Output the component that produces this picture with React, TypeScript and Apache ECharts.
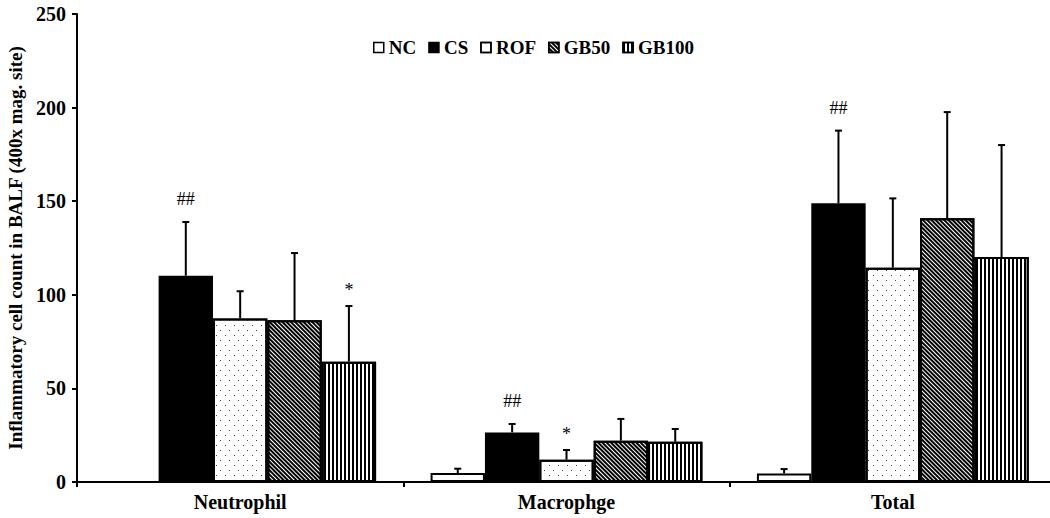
import React, { useEffect, useRef } from "react";
import * as echarts from "echarts";

const categories = ["Neutrophil", "Macrophge", "Total"];
const groups = ["NC", "CS", "ROF", "GB50", "GB100"];
const ncMean = [0, 4.8, 4.6];
const ncErr = [0, 2.3, 2.3];
const csMean = [110.2, 26.5, 148.9];
const csErr = [28.7, 4.5, 38.8];
const rofMean = [87.4, 11.9, 114.5];
const rofErr = [14.5, 5.2, 37.0];
const gb50Mean = [86.4, 22.1, 140.9];
const gb50Err = [35.9, 11.6, 56.7];
const gb100Mean = [64.3, 21.5, 120.2];
const gb100Err = [29.7, 6.8, 59.8];
const ncMarks = ["", "", ""];
const csMarks = ["##", "##", "##"];
const rofMarks = ["", "*", ""];
const gb50Marks = ["", "", ""];
const gb100Marks = ["*", "", ""];
const yMin = 0;
const yMax = 250;
const yStep = 50;

const means = [ncMean, csMean, rofMean, gb50Mean, gb100Mean];
const errs = [ncErr, csErr, rofErr, gb50Err, gb100Err];
const marks = [ncMarks, csMarks, rofMarks, gb50Marks, gb100Marks];

const FONT = "'Liberation Serif', 'Times New Roman', serif";
const CAT_GAP = 0.167;

const itemStyles: any[] = [
  { color: "#ffffff", borderColor: "#000", borderWidth: 2 },
  { color: "#000000", borderColor: "#000", borderWidth: 2 },
  {
    color: "#ffffff",
    borderColor: "#000",
    borderWidth: 2,
    decal: {
      symbol: "rect",
      symbolSize: 1,
      color: "#444",
      backgroundColor: "#ffffff",
      dashArrayX: [[1, 8], [0, 4, 1, 4]],
      dashArrayY: [1, 4],
      rotation: 0,
    },
  },
  {
    color: "#ffffff",
    borderColor: "#000",
    borderWidth: 2,
    decal: {
      symbol: "rect",
      symbolSize: 1,
      color: "#000",
      backgroundColor: "#ffffff",
      dashArrayX: [1, 0],
      dashArrayY: [1.2, 1],
      rotation: Math.PI / 4,
    },
  },
  {
    color: "#ffffff",
    borderColor: "#000",
    borderWidth: 2,
    decal: {
      symbol: "rect",
      symbolSize: 1,
      color: "#000",
      backgroundColor: "#ffffff",
      dashArrayX: [2, 2],
      dashArrayY: [1, 0],
      rotation: 0,
    },
  },
];

export default function App() {
  const ref = useRef<HTMLDivElement>(null);
  useEffect(() => {
    if (!ref.current) return;
    const chart = echarts.init(ref.current, undefined, { renderer: "svg" });

    const errData: any[] = [];
    groups.forEach((g, si) => {
      categories.forEach((c, ci) => {
        errData.push([ci, means[si][ci], errs[si][ci], si, marks[si][ci]]);
      });
    });

    const barSeries = groups.map((g, si) => ({
      name: g,
      type: "bar",
      data: means[si],
      barGap: "0%",
      barCategoryGap: (CAT_GAP * 100).toFixed(1) + "%",
      itemStyle: itemStyles[si],
      emphasis: { disabled: true },
    }));

    const option: any = {
      animation: false,
      backgroundColor: "#ffffff",
      grid: { left: 77, right: -6, top: 14, bottom: 36, containLabel: false, outerBoundsMode: "none" },
      legend: {
        left: 373,
        top: 38,
        padding: 0,
        itemWidth: 10,
        itemHeight: 10,
        itemGap: 12,
        icon: "rect",
        data: groups,
        selectedMode: false,
        textStyle: { fontFamily: FONT, fontWeight: "bold", fontSize: 19, color: "#000" },
        itemStyle: { borderWidth: 1.5 },
      },
      xAxis: {
        type: "category",
        data: categories,
        axisLine: { lineStyle: { color: "#000", width: 2 } },
        axisTick: { show: true, alignWithLabel: false, length: 5, lineStyle: { color: "#000", width: 2 } },
        axisLabel: { fontFamily: FONT, fontWeight: "bold", fontSize: 20, color: "#000", margin: 10 },
        splitLine: { show: false },
      },
      yAxis: {
        type: "value",
        min: yMin,
        max: yMax,
        interval: yStep,
        name: "Inflammatory cell count in BALF (400x mag. site)",
        nameLocation: "middle",
        nameRotate: 90,
        nameGap: 51,
        nameTextStyle: { fontFamily: FONT, fontWeight: "bold", fontSize: 19, color: "#000" },
        axisLine: { show: true, lineStyle: { color: "#000", width: 2 } },
        axisTick: { show: true, inside: false, length: 5, lineStyle: { color: "#000", width: 2 } },
        axisLabel: { fontFamily: FONT, fontWeight: "bold", fontSize: 20, color: "#000", margin: 11 },
        splitLine: { show: false },
      },
      series: [
        ...barSeries,
        {
          type: "custom",
          name: "err",
          data: errData,
          encode: { x: 0, y: 1 },
          z: 5,
          silent: true,
          renderItem: (params: any, api: any) => {
            const ci = api.value(0);
            const mean = api.value(1);
            const err = api.value(2);
            const si = api.value(3);
            const mark = errData[params.dataIndex][4];
            const catW = api.size([1, 0])[0];
            const bw = (catW * (1 - CAT_GAP)) / groups.length;
            const center = api.coord([ci, mean]);
            const x = center[0] + (si - (groups.length - 1) / 2) * bw;
            const yTop = api.coord([ci, mean + err])[1];
            const yBar = center[1];
            const children: any[] = [];
            if (err > 0) {
              children.push({
                type: "line",
                shape: { x1: x, y1: yBar, x2: x, y2: yTop },
                style: { stroke: "#000", lineWidth: 2 },
              });
              children.push({
                type: "line",
                shape: { x1: x - 3.5, y1: yTop, x2: x + 3.5, y2: yTop },
                style: { stroke: "#000", lineWidth: 2 },
              });
            }
            if (mark) {
              children.push({
                type: "text",
                x: x,
                y: yTop - (mark === "##" ? 14 : 7),
                style: {
                  text: mark,
                  fontFamily: FONT,
                  fontSize: 18,
                  fill: "#000",
                  align: "center",
                  verticalAlign: "bottom",
                },
              });
            }
            return { type: "group", children };
          },
        },
      ],
    };
    chart.setOption(option);
    return () => chart.dispose();
  }, []);
  return (
    <div style={{ position: "fixed", left: 0, top: 0, width: 1050, height: 518, background: "#fff" }}>
      <div ref={ref} style={{ width: 1050, height: 518 }} />
    </div>
  );
}
